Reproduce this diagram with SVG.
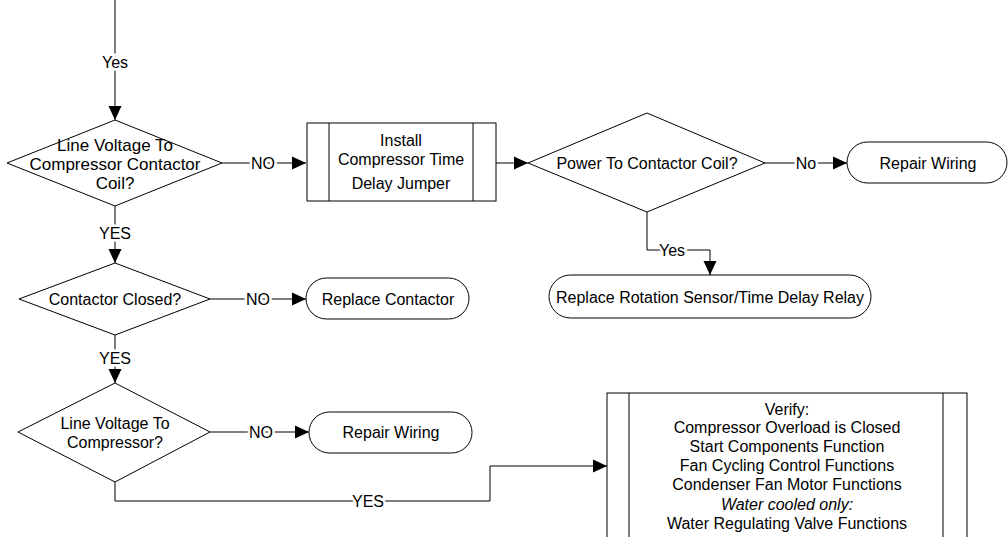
<svg xmlns="http://www.w3.org/2000/svg" width="1008" height="537" viewBox="0 0 1008 537">
<style>
.shape{fill:#fff;stroke:#000;stroke-width:1}
.line{fill:none;stroke:#000;stroke-width:1}
text{font-family:"Liberation Sans",Arial,sans-serif;font-size:16px;fill:#000;text-anchor:middle;dominant-baseline:central}
.lbl{stroke:#fff;stroke-width:5;paint-order:stroke}
.big{font-size:17px}
</style>
<defs>
<marker id="arr" markerUnits="userSpaceOnUse" markerWidth="14" markerHeight="14" refX="14" refY="7" orient="auto">
<path d="M0,0.5 L14,7 L0,13.5 z" fill="#000"/>
</marker>
</defs>
<rect width="1008" height="537" fill="#fff"/>
<g id="connectors">
<path class="line" d="M115,0 V120" marker-end="url(#arr)"/>
<text class="lbl" x="115" y="62">Yes</text>
<path class="line" d="M222,163 H306" marker-end="url(#arr)"/>
<text class="lbl" x="263" y="163">NO</text>
<path class="line" d="M496,163 H528" marker-end="url(#arr)"/>
<path class="line" d="M765,163 H847" marker-end="url(#arr)"/>
<text class="lbl" x="806" y="163">No</text>
<path class="line" d="M647,212 V250 H710 V275" marker-end="url(#arr)"/>
<text class="lbl" x="672" y="250">Yes</text>
<path class="line" d="M115,206 V263" marker-end="url(#arr)"/>
<text class="lbl" x="115" y="233">YES</text>
<path class="line" d="M210,299 H306" marker-end="url(#arr)"/>
<text class="lbl" x="258" y="299">NO</text>
<path class="line" d="M115,335 V383" marker-end="url(#arr)"/>
<text class="lbl" x="115" y="358">YES</text>
<path class="line" d="M210,432 H309" marker-end="url(#arr)"/>
<text class="lbl" x="261" y="432">NO</text>
<path class="line" d="M115,482 V501 H490 V466 H607" marker-end="url(#arr)"/>
<text class="lbl" x="368" y="501">YES</text>
</g>
<g id="d1">
<polygon class="shape" points="115,120 222,163 115,206 7,163"/>
<text class="big" x="115" y="145">Line Voltage To</text>
<text class="big" x="115" y="164">Compressor Contactor</text>
<text class="big" x="115" y="183">Coil?</text>
</g>
<g id="p1">
<rect class="shape" x="307" y="123" width="189" height="78"/>
<path class="line" d="M329,123 V201 M473,123 V201"/>
<text x="401" y="140">Install</text>
<text x="401" y="159">Compressor Time</text>
<text x="401" y="183">Delay Jumper</text>
</g>
<g id="d2">
<polygon class="shape" points="647,113 765,163 647,212 528,163"/>
<text x="647" y="163">Power To Contactor Coil?</text>
</g>
<g id="t1">
<rect class="shape" x="847" y="142" width="160" height="41" rx="20.5" ry="20.5"/>
<text x="928" y="163">Repair Wiring</text>
</g>
<g id="t2">
<rect class="shape" x="549" y="275" width="322" height="43" rx="21.5" ry="21.5"/>
<text x="710" y="297">Replace Rotation Sensor/Time Delay Relay</text>
</g>
<g id="d3">
<polygon class="shape" points="115,263 210,299 115,335 19,299"/>
<text x="115" y="299">Contactor Closed?</text>
</g>
<g id="t3">
<rect class="shape" x="306" y="278" width="163" height="41" rx="20.5" ry="20.5"/>
<text x="388" y="299">Replace Contactor</text>
</g>
<g id="d4">
<polygon class="shape" points="115,383 210,432 115,482 18,432"/>
<text x="115" y="423">Line Voltage To</text>
<text x="115" y="442">Compressor?</text>
</g>
<g id="t4">
<rect class="shape" x="309" y="412" width="163" height="41" rx="20.5" ry="20.5"/>
<text x="391" y="432">Repair Wiring</text>
</g>
<g id="p2">
<rect class="shape" x="607" y="393" width="360" height="160"/>
<path class="line" d="M629,393 V553 M943,393 V553"/>
<text x="787" y="409">Verify:</text>
<text x="787" y="427">Compressor Overload is Closed</text>
<text x="787" y="446">Start Components Function</text>
<text x="787" y="465">Fan Cycling Control Functions</text>
<text x="787" y="484">Condenser Fan Motor Functions</text>
<text x="787" y="504" font-style="italic">Water cooled only:</text>
<text x="787" y="523">Water Regulating Valve Functions</text>
</g>
</svg>
